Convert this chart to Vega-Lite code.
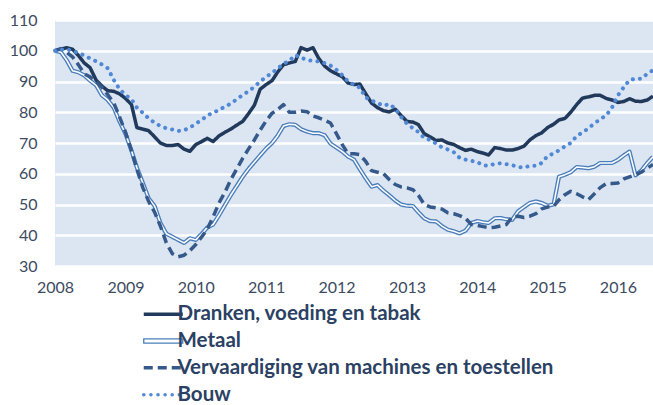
{
  "$schema": "https://vega.github.io/schema/vega-lite/v6.json",
  "width": 598,
  "height": 246,
  "autosize": {"type": "none"},
  "padding": {"left": 55, "top": 20, "right": 0, "bottom": 139},
  "background": "white",
  "config": {
    "view": {"fill": "#dce6f2", "stroke": null},
    "font": "Lato",
    "legend": {"labelFontWeight": 700, "labelFont": "Lato", "labelFontSize": 20.5}
  },
  "data": {"values": [
    {"d":"2008-01-01","D":100,"M":100,"V":100,"B":100},
    {"d":"2008-02-01","D":100.5,"M":99.5,"V":100.7,"B":100.3},
    {"d":"2008-03-01","D":101,"M":97,"V":99.5,"B":100.5},
    {"d":"2008-04-01","D":100.5,"M":93.5,"V":98,"B":100},
    {"d":"2008-05-01","D":98.5,"M":93,"V":95.5,"B":99.3},
    {"d":"2008-06-01","D":96,"M":92,"V":92.5,"B":98.5},
    {"d":"2008-07-01","D":94.5,"M":90.3,"V":91.5,"B":97.5},
    {"d":"2008-08-01","D":90.5,"M":88.8,"V":90,"B":96.6},
    {"d":"2008-09-01","D":88.5,"M":85.5,"V":88,"B":95.5},
    {"d":"2008-10-01","D":87,"M":84,"V":85.7,"B":94.3},
    {"d":"2008-11-01","D":86.8,"M":81.5,"V":83,"B":90.5},
    {"d":"2008-12-01","D":86,"M":77,"V":78.5,"B":87.5},
    {"d":"2009-01-01","D":84.5,"M":73,"V":73.5,"B":85.6},
    {"d":"2009-02-01","D":82.5,"M":67.5,"V":67.5,"B":84.2},
    {"d":"2009-03-01","D":75,"M":62,"V":61.5,"B":81.5},
    {"d":"2009-04-01","D":74.5,"M":57,"V":55.5,"B":79.8},
    {"d":"2009-05-01","D":74,"M":52,"V":51,"B":78},
    {"d":"2009-06-01","D":72,"M":49.5,"V":47.5,"B":76.6},
    {"d":"2009-07-01","D":70,"M":44,"V":43,"B":75.5},
    {"d":"2009-08-01","D":69.2,"M":40.5,"V":37.5,"B":74.8},
    {"d":"2009-09-01","D":69.2,"M":39.5,"V":34,"B":74.4},
    {"d":"2009-10-01","D":69.5,"M":38.5,"V":33,"B":73.9},
    {"d":"2009-11-01","D":68,"M":37.5,"V":33.5,"B":74.2},
    {"d":"2009-12-01","D":67.3,"M":39,"V":35,"B":75},
    {"d":"2010-01-01","D":69.5,"M":38.5,"V":37,"B":76.3},
    {"d":"2010-02-01","D":70.5,"M":40.5,"V":39.5,"B":77.5},
    {"d":"2010-03-01","D":71.5,"M":42.5,"V":42,"B":79},
    {"d":"2010-04-01","D":70.5,"M":43.5,"V":46,"B":79.8},
    {"d":"2010-05-01","D":72.3,"M":46.5,"V":50.5,"B":80.8},
    {"d":"2010-06-01","D":73.5,"M":49.8,"V":54,"B":81.8},
    {"d":"2010-07-01","D":74.5,"M":53,"V":58,"B":82.8},
    {"d":"2010-08-01","D":75.8,"M":56,"V":61.5,"B":84.2},
    {"d":"2010-09-01","D":77,"M":59,"V":65,"B":85.6},
    {"d":"2010-10-01","D":79.5,"M":61.5,"V":68,"B":86.8},
    {"d":"2010-11-01","D":82.3,"M":63.8,"V":71,"B":88.3},
    {"d":"2010-12-01","D":87.5,"M":66,"V":74.2,"B":90},
    {"d":"2011-01-01","D":89,"M":68.2,"V":77.2,"B":91.5},
    {"d":"2011-02-01","D":90.3,"M":70,"V":79.7,"B":92.8},
    {"d":"2011-03-01","D":93,"M":72.3,"V":80.8,"B":94.2},
    {"d":"2011-04-01","D":95.5,"M":75.5,"V":82.5,"B":95.8},
    {"d":"2011-05-01","D":96,"M":76.1,"V":80,"B":96.7},
    {"d":"2011-06-01","D":96.5,"M":75.9,"V":80,"B":98.6},
    {"d":"2011-07-01","D":101,"M":74.5,"V":80.4,"B":97.8},
    {"d":"2011-08-01","D":100.2,"M":73.7,"V":80.2,"B":97},
    {"d":"2011-09-01","D":101,"M":73.2,"V":78.8,"B":96.7},
    {"d":"2011-10-01","D":97.5,"M":73.2,"V":78.2,"B":96.5},
    {"d":"2011-11-01","D":95,"M":72.5,"V":77.4,"B":96},
    {"d":"2011-12-01","D":93.5,"M":69.8,"V":76.5,"B":95.2},
    {"d":"2012-01-01","D":92.5,"M":68.5,"V":73,"B":93.8},
    {"d":"2012-02-01","D":91.5,"M":67.2,"V":69.4,"B":92},
    {"d":"2012-03-01","D":89.5,"M":65.6,"V":66.5,"B":90},
    {"d":"2012-04-01","D":89,"M":64.6,"V":66.5,"B":89},
    {"d":"2012-05-01","D":89.2,"M":61.5,"V":66.2,"B":88},
    {"d":"2012-06-01","D":86,"M":58.5,"V":64,"B":84.8},
    {"d":"2012-07-01","D":83,"M":55.8,"V":61,"B":83.8},
    {"d":"2012-08-01","D":81.5,"M":56.3,"V":60.5,"B":83},
    {"d":"2012-09-01","D":80.5,"M":54.5,"V":60,"B":82.1},
    {"d":"2012-10-01","D":80.1,"M":53,"V":58.1,"B":82.7},
    {"d":"2012-11-01","D":81,"M":51.3,"V":56.5,"B":81.2},
    {"d":"2012-12-01","D":79,"M":50,"V":55.7,"B":78.5},
    {"d":"2013-01-01","D":77,"M":49.6,"V":55.4,"B":76.3},
    {"d":"2013-02-01","D":76.8,"M":49.5,"V":54.8,"B":74.8},
    {"d":"2013-03-01","D":76,"M":47.5,"V":53,"B":73.6},
    {"d":"2013-04-01","D":73,"M":45.5,"V":50,"B":71.6},
    {"d":"2013-05-01","D":72,"M":44.6,"V":49.2,"B":71},
    {"d":"2013-06-01","D":70.8,"M":44.5,"V":48.9,"B":69.8},
    {"d":"2013-07-01","D":71,"M":43,"V":48.5,"B":68.6},
    {"d":"2013-08-01","D":70,"M":41.8,"V":47.3,"B":67.9},
    {"d":"2013-09-01","D":69.5,"M":41.3,"V":47,"B":67},
    {"d":"2013-10-01","D":68.5,"M":40.6,"V":46.4,"B":65.2},
    {"d":"2013-11-01","D":67.6,"M":41.5,"V":45.5,"B":64.6},
    {"d":"2013-12-01","D":68,"M":44,"V":43.5,"B":64.2},
    {"d":"2014-01-01","D":67.2,"M":44.6,"V":43.2,"B":63.8},
    {"d":"2014-02-01","D":66.7,"M":44.2,"V":42.8,"B":62.7},
    {"d":"2014-03-01","D":66.1,"M":44,"V":42.5,"B":62.6},
    {"d":"2014-04-01","D":68.5,"M":45.5,"V":42.6,"B":63.2},
    {"d":"2014-05-01","D":68.2,"M":45.6,"V":43,"B":63.4},
    {"d":"2014-06-01","D":67.7,"M":45.2,"V":43.5,"B":63.1},
    {"d":"2014-07-01","D":67.7,"M":45,"V":46,"B":62.8},
    {"d":"2014-08-01","D":68.2,"M":47.8,"V":46.2,"B":62.2},
    {"d":"2014-09-01","D":69,"M":49.2,"V":45.8,"B":62},
    {"d":"2014-10-01","D":71,"M":50.5,"V":46.2,"B":62.6},
    {"d":"2014-11-01","D":72.4,"M":51,"V":47,"B":62.6},
    {"d":"2014-12-01","D":73.3,"M":50.5,"V":48.6,"B":63.5},
    {"d":"2015-01-01","D":75,"M":49.6,"V":49.2,"B":65.8},
    {"d":"2015-02-01","D":76.1,"M":50,"V":49.4,"B":66.6},
    {"d":"2015-03-01","D":77.5,"M":59,"V":51.5,"B":67.6},
    {"d":"2015-04-01","D":78,"M":59.7,"V":53.2,"B":68.9},
    {"d":"2015-05-01","D":80,"M":60.5,"V":54.3,"B":70},
    {"d":"2015-06-01","D":82.5,"M":62.2,"V":53.5,"B":72.3},
    {"d":"2015-07-01","D":84.6,"M":62,"V":52.5,"B":73.4},
    {"d":"2015-08-01","D":85,"M":61.8,"V":51.6,"B":74.8},
    {"d":"2015-09-01","D":85.5,"M":62.3,"V":53.5,"B":76.4},
    {"d":"2015-10-01","D":85.5,"M":63.5,"V":55.5,"B":77.7},
    {"d":"2015-11-01","D":84.5,"M":63.5,"V":56.8,"B":79},
    {"d":"2015-12-01","D":84,"M":63.5,"V":56.8,"B":81.5},
    {"d":"2016-01-01","D":83.2,"M":64.5,"V":57,"B":85.5},
    {"d":"2016-02-01","D":83.5,"M":66,"V":58.3,"B":88.2},
    {"d":"2016-03-01","D":84.4,"M":67.2,"V":59,"B":90.5},
    {"d":"2016-04-01","D":83.6,"M":59.5,"V":59.7,"B":90.9},
    {"d":"2016-05-01","D":83.5,"M":61,"V":60.5,"B":90.9},
    {"d":"2016-06-01","D":84,"M":63.5,"V":61.8,"B":92.5},
    {"d":"2016-07-01","D":85.2,"M":65.5,"V":63,"B":93.7}
  ]},
  "transform": [{"fold": ["D", "M", "V", "B"], "as": ["s", "v"]}],
  "encoding": {
    "x": {
      "field": "d", "type": "temporal",
      "scale": {"type": "utc", "domain": [{"year": 2008, "month": 1, "date": 1, "utc": true}, {"year": 2016, "month": 7, "date": 1, "utc": true}]},
      "axis": {"title": null, "format": "%Y", "tickCount": {"interval": "year", "step": 1}, "grid": false, "domain": false, "ticks": false, "labelPadding": 13, "labelFontSize": 16, "labelFont": "Lato", "labelColor": "#3c4b5f", "labelAngle": 0, "labelFlush": false, "labelOverlap": false}
    },
    "y": {
      "field": "v", "type": "quantitative",
      "scale": {"domain": [30, 110], "nice": false, "zero": false},
      "axis": {"title": null, "values": [30, 40, 50, 60, 70, 80, 90, 100, 110], "domain": false, "ticks": false, "labelPadding": 18, "labelFontSize": 16, "labelFont": "Lato", "labelColor": "#3c4b5f", "grid": true, "gridColor": "#ffffff", "gridWidth": 2.6, "gridOpacity": 1}
    }
  },
  "layer": [
    {
      "transform": [{"filter": "datum.s === 'D'"}],
      "mark": {"type": "line", "strokeWidth": 3.5, "strokeJoin": "round"},
      "encoding": {
        "color": {"field": "s", "type": "nominal", "scale": {"domain": ["D", "M", "V", "B"], "range": ["#213a5c", "#4a7ebb", "#34598a", "#5088d6"]},
          "legend": {"title": null, "orient": "none", "legendX": 98, "legendY": 284, "direction": "vertical", "symbolType": "stroke", "symbolSize": 1521, "symbolStrokeWidth": 3.5, "labelFont": "Lato", "labelFontSize": 20.5, "labelFontWeight": 700, "labelColor": "#2b4163", "labelOffset": 4, "labelLimit": 600, "padding": 0, "rowPadding": 5.8,
            "labelExpr": "datum.label === 'D' ? 'Dranken, voeding en tabak' : datum.label === 'M' ? 'Metaal' : datum.label === 'V' ? 'Vervaardiging van machines en toestellen' : 'Bouw'",
            "encode": {"labels": {"update": {"fontWeight": {"value": "bold"}}}, "symbols": {"update": {"shape": {"signal": "datum.value === 'M' ? 'M-1,-0.11H1V0.11H-1Z' : 'stroke'"}, "fill": {"signal": "datum.value === 'M' ? '#ffffff' : 'transparent'"}, "strokeWidth": {"signal": "datum.value === 'M' ? 1.3 : 3.5"}, "strokeCap": {"signal": "datum.value === 'B' ? 'round' : 'butt'"}}}}}},
        "strokeDash": {"field": "s", "type": "nominal", "scale": {"domain": ["D", "M", "V", "B"], "range": [[1, 0], [1, 0], [9, 5], [0.1, 7]]},
          "legend": {"title": null, "orient": "none", "legendX": 98, "legendY": 284, "direction": "vertical", "symbolType": "stroke", "symbolSize": 1521, "symbolStrokeWidth": 3.5, "labelFont": "Lato", "labelFontSize": 20.5, "labelFontWeight": 700, "labelColor": "#2b4163", "labelOffset": 4, "labelLimit": 600, "padding": 0, "rowPadding": 5.8,
            "labelExpr": "datum.label === 'D' ? 'Dranken, voeding en tabak' : datum.label === 'M' ? 'Metaal' : datum.label === 'V' ? 'Vervaardiging van machines en toestellen' : 'Bouw'",
            "encode": {"labels": {"update": {"fontWeight": {"value": "bold"}}}, "symbols": {"update": {"shape": {"signal": "datum.value === 'M' ? 'M-1,-0.11H1V0.11H-1Z' : 'stroke'"}, "fill": {"signal": "datum.value === 'M' ? '#ffffff' : 'transparent'"}, "strokeWidth": {"signal": "datum.value === 'M' ? 1.3 : 3.5"}, "strokeCap": {"signal": "datum.value === 'B' ? 'round' : 'butt'"}}}}}}
      }
    },
    {
      "transform": [{"filter": "datum.s === 'M'"}],
      "mark": {"type": "line", "strokeWidth": 4.2, "strokeJoin": "round"},
      "encoding": {
        "color": {"field": "s", "type": "nominal"},
        "strokeDash": {"field": "s", "type": "nominal"}
      }
    },
    {
      "transform": [{"filter": "datum.s === 'M'"}],
      "mark": {"type": "line", "stroke": "#ffffff", "strokeWidth": 1.5, "strokeJoin": "round"},
      "encoding": {}
    },
    {
      "transform": [{"filter": "datum.s === 'V'"}],
      "mark": {"type": "line", "strokeWidth": 3.5, "strokeJoin": "round"},
      "encoding": {
        "color": {"field": "s", "type": "nominal"},
        "strokeDash": {"field": "s", "type": "nominal"}
      }
    },
    {
      "transform": [{"filter": "datum.s === 'B'"}],
      "mark": {"type": "line", "strokeWidth": 4, "strokeCap": "round", "strokeJoin": "round"},
      "encoding": {
        "color": {"field": "s", "type": "nominal"},
        "strokeDash": {"field": "s", "type": "nominal"}
      }
    }
  ]
}
